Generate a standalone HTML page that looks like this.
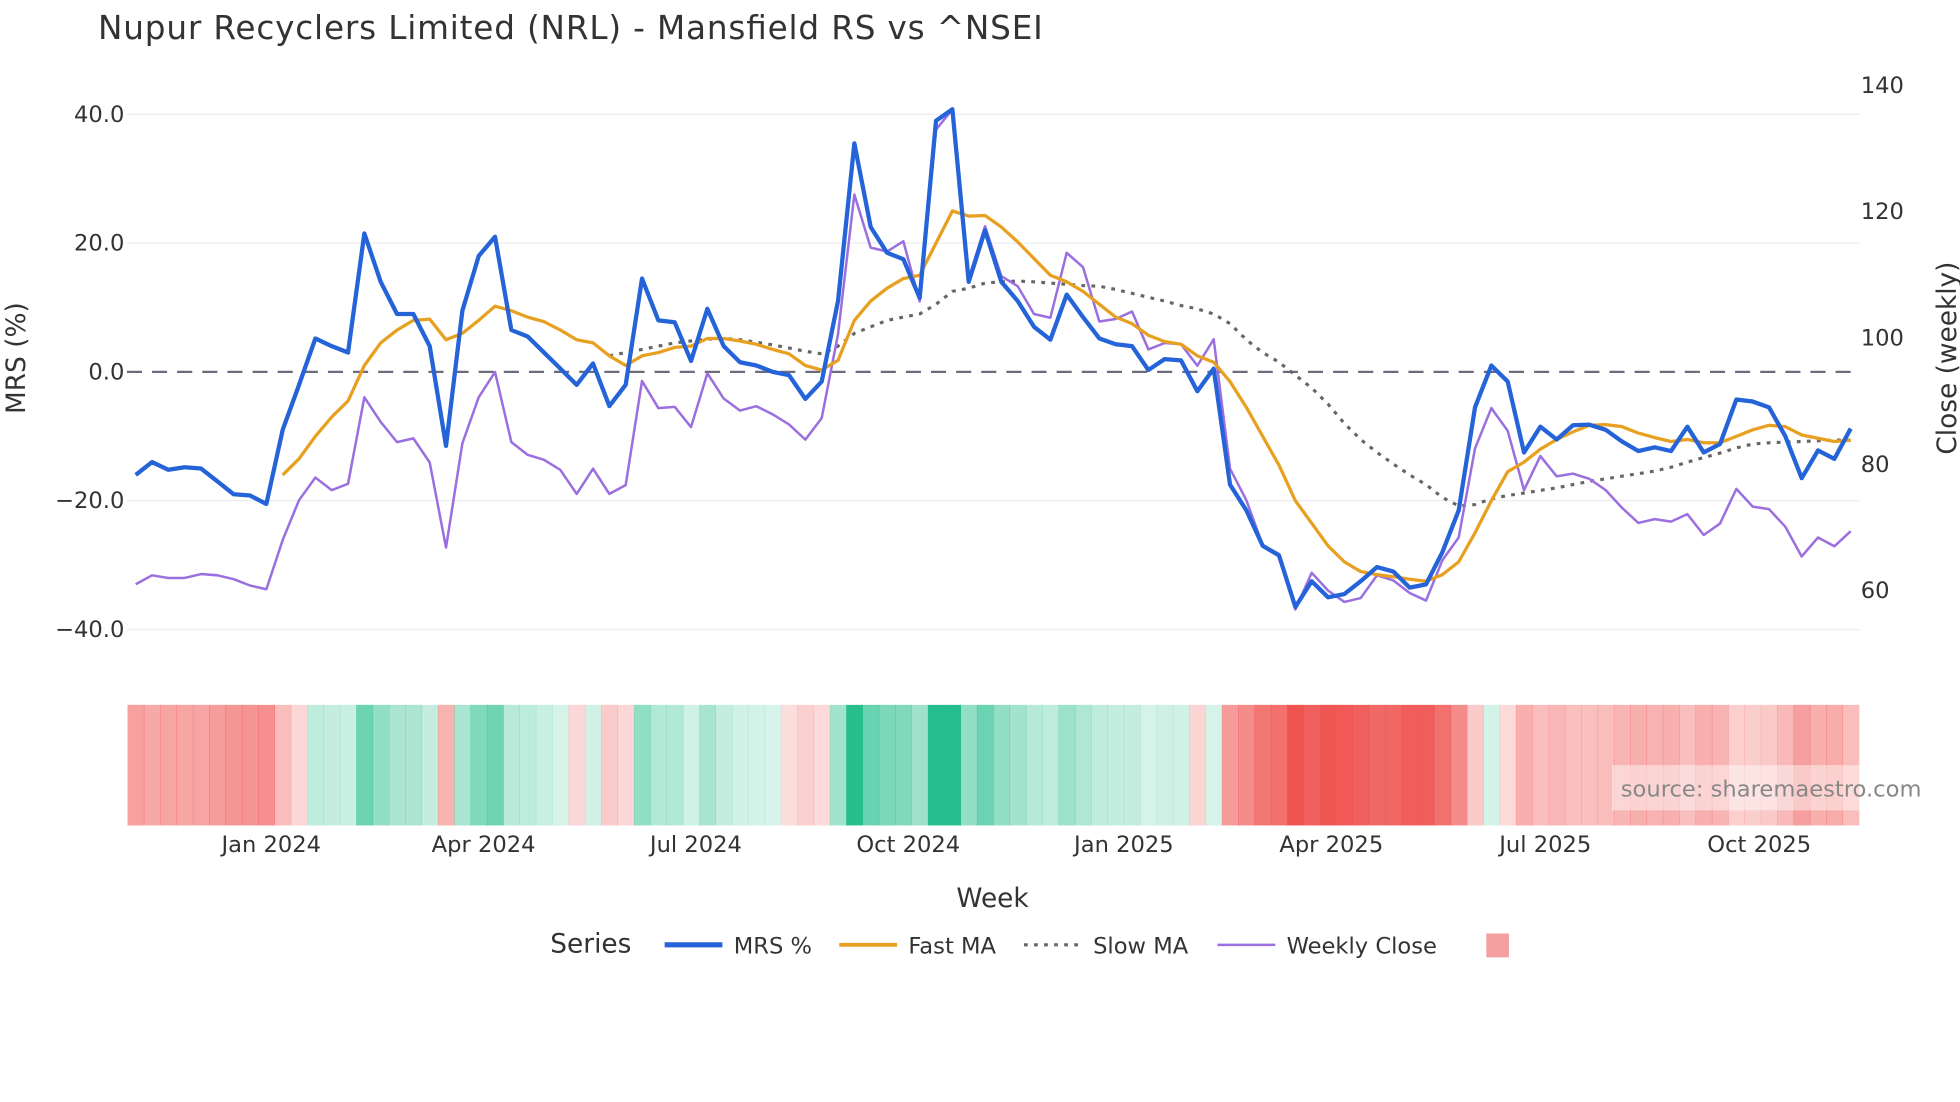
<!DOCTYPE html>
<html><head><meta charset="utf-8"><title>Nupur Recyclers Mansfield RS</title>
<style>html,body{margin:0;padding:0;background:#fff;}svg{display:block;font-family:"DejaVu Sans","Liberation Sans",sans-serif;}</style>
</head><body>
<svg id="chart" width="1960" height="1102" viewBox="0 0 1560 877.1" xmlns="http://www.w3.org/2000/svg">
<g id="grid"></g>
<g id="strip"></g>
<g id="series"></g>
<g id="axes"></g>
<text x="78" y="31" font-size="26" textLength="752" fill="#333">Nupur Recyclers Limited (NRL) - Mansfield RS vs ^NSEI</text>
<text transform="translate(20,285) rotate(-90)" text-anchor="middle" font-size="21" fill="#333">MRS (%)</text>
<text transform="translate(1557,285) rotate(-90)" text-anchor="middle" font-size="21" fill="#333">Close (weekly)</text>
<text x="790" y="722" text-anchor="middle" font-size="21" fill="#333">Week</text>
<g>
<rect x="1283" y="609" width="197" height="36" fill="#fff" fill-opacity="0.45"/>
<text x="1290" y="634" font-size="18" fill="#888">source: sharemaestro.com</text>
</g>
<g>
<text x="438" y="758" font-size="21" fill="#333">Series</text>
<g><line x1="529" y1="752" x2="575" y2="752" stroke="#2563d9" stroke-width="4"/><text x="584" y="759" font-size="18" fill="#333">MRS %</text></g>
<g><line x1="668" y1="752" x2="714" y2="752" stroke="#e8a020" stroke-width="3"/><text x="723" y="759" font-size="18" fill="#333">Fast MA</text></g>
<g><line x1="815" y1="752" x2="860" y2="752" stroke="#666" stroke-width="2.5" stroke-dasharray="3,5"/><text x="870" y="759" font-size="18" fill="#333">Slow MA</text></g>
<g><line x1="969" y1="752" x2="1015" y2="752" stroke="#9b6fe0" stroke-width="2"/><text x="1024" y="759" font-size="18" fill="#333">Weekly Close</text></g>
<rect x="1183" y="743" width="18" height="19" fill="#f4a0a0"/>
</g>
</svg>
<script>
const mrs = [-16,-14,-15.2,-14.8,-15,-17,-19,-19.2,-20.5,-9,-2,5.2,4,3,21.5,14,9,9,4,-11.5,9.5,18,21,6.5,5.5,3,0.5,-2,1.3,-5.3,-2,14.5,8,7.7,1.7,9.8,4,1.5,1,0,-0.5,-4.2,-1.5,11,35.5,22.5,18.5,17.5,11.5,39,40.8,14,22,14,11,7,5,12,8.5,5.2,4.3,4,0.3,2,1.8,-3,0.5,-17.5,-21.5,-27,-28.5,-36.5,-32.5,-35,-34.5,-32.5,-30.3,-31,-33.5,-33,-28,-21.5,-5.5,1,-1.5,-12.5,-8.5,-10.5,-8.3,-8.2,-9,-10.8,-12.3,-11.7,-12.3,-8.5,-12.5,-11.2,-4.3,-4.6,-5.5,-10,-16.5,-12.2,-13.5,-8.8];
const closeW = [60.8,62.2,61.8,61.8,62.4,62.2,61.6,60.6,60,67.8,74.1,77.7,75.7,76.7,90.4,86.5,83.3,83.9,80.1,66.6,83.1,90.4,94.4,83.3,81.3,80.5,78.9,75.1,79.1,75.1,76.5,93,88.7,88.9,85.7,94.2,90.2,88.3,89,87.7,86.1,83.7,87.1,100.4,122.5,114.1,113.5,115.1,105.6,132.8,136,109.2,117.5,109.6,108,103.6,103,113.3,111,102.4,102.8,104,98,99,98.8,95.4,99.6,79.1,74.1,67,65.6,56.8,62.6,59.8,58,58.6,62.2,61.4,59.4,58.2,64.6,68.2,82.3,88.7,85.1,75.7,81.1,77.9,78.3,77.5,75.7,72.9,70.5,71.1,70.7,71.9,68.6,70.4,75.9,73.1,72.7,69.9,65.2,68.2,66.8,69.2];
const fastMA = [null,null,null,null,null,null,null,null,null,-16,-13.5,-10,-7,-4.5,1,4.5,6.5,8,8.2,5,6,8,10.2,9.5,8.5,7.8,6.5,5,4.5,2.5,1,2.5,3,3.8,4,5.2,5.2,4.8,4.3,3.5,2.8,1,0.3,1.8,8,11,13,14.5,15,20,25,24.2,24.3,22.5,20.2,17.6,15,14,12.5,10.5,8.5,7.5,5.7,4.7,4.3,2.5,1.5,-1.5,-5.5,-10,-14.5,-20,-23.5,-27,-29.5,-31,-31.5,-31.8,-32.2,-32.5,-31.5,-29.5,-25,-20,-15.5,-14,-12,-10.5,-9.3,-8.3,-8.2,-8.5,-9.5,-10.2,-10.8,-10.5,-11,-11,-10,-9,-8.3,-8.5,-9.8,-10.3,-10.8,-10.6];
const slowMA = [null,null,null,null,null,null,null,null,null,null,null,null,null,null,null,null,null,null,null,null,null,null,null,null,null,null,null,null,null,2.5,3,3.5,4,4.5,4.8,5.1,5.2,5,4.6,4.2,3.7,3.2,2.8,4,6,7,8,8.5,9,10.5,12.5,13,13.8,14,14.1,14,13.8,13.6,13.4,13.3,12.8,12.2,11.6,11,10.3,9.8,9,7.5,5,3,1.5,-0.5,-2.5,-5,-8,-10.5,-12.5,-14.3,-16,-17.5,-19.5,-20.8,-20.6,-19.7,-19.2,-18.8,-18.4,-18,-17.5,-17,-16.6,-16.2,-15.8,-15.4,-14.8,-14,-13.3,-12.6,-11.8,-11.2,-11,-10.9,-10.8,-10.7,-10.6,-10.6];
const yTicks = [40,20,0,-20,-40];
const yTickLabels = ["40.0","20.0","0.0","\u221220.0","\u221240.0"];
const y2Ticks = [140,120,100,80,60];
const xTickWeeks = [8.3,21.3,34.3,47.3,60.5,73.2,86.3,99.4];
const xTickLabels = ["Jan 2024","Apr 2024","Jul 2024","Oct 2024","Jan 2025","Apr 2025","Jul 2025","Oct 2025"];

const NS="http://www.w3.org/2000/svg";
const X0=101,X1=1480;
const xs=i=>108+i*13;
const ys=v=>296-v*5.125;
const y2s=v=>268-(v-100)*5.025;
function mk(tag,parent){const e=document.createElementNS(NS,tag);parent.appendChild(e);return e;}
const grid=document.getElementById('grid'),axes=document.getElementById('axes'),series=document.getElementById('series'),strip=document.getElementById('strip');

yTicks.forEach((v,k)=>{
  if(v!==0){const l=mk('line',grid);
  
  
  l.setAttribute('x1',X0);l.setAttribute('x2',X1);l.setAttribute('y1',ys(v));l.setAttribute('y2',ys(v));l.setAttribute('stroke','#ebedf2');l.setAttribute('stroke-width','1');}
  const t=mk('text',axes);
  
  
  t.setAttribute('x',99);t.setAttribute('y',ys(v)+6);t.setAttribute('text-anchor','end');t.setAttribute('font-size','18');t.setAttribute('fill','#333');t.textContent=yTickLabels[k];
});
y2Ticks.forEach(v=>{
  const t=mk('text',axes);
  
  
  t.setAttribute('x',1481);t.setAttribute('y',y2s(v)+7);t.setAttribute('font-size','18');t.setAttribute('fill','#333');t.textContent=v;
});
const zl=mk('line',grid);


zl.setAttribute('x1',X0);zl.setAttribute('x2',X1);zl.setAttribute('y1',ys(0));zl.setAttribute('y2',ys(0));zl.setAttribute('stroke','#6b6b7b');zl.setAttribute('stroke-width','1.8');zl.setAttribute('stroke-dasharray','12,8');

xTickWeeks.forEach((w,k)=>{
  const t=mk('text',axes);
  
  
  t.setAttribute('x',xs(w));t.setAttribute('y',678);t.setAttribute('text-anchor','middle');t.setAttribute('font-size','18');t.setAttribute('fill','#333');t.textContent=xTickLabels[k];
});

mrs.forEach((v,i)=>{
  const a=Math.min(Math.abs(v)/36,1);
  const alpha=0.18+0.82*a;
  const c=v<0?'rgb(239,83,80)':'rgb(38,190,140)';
  const left=Math.max(X0,xs(i)-6.5),right=Math.min(X1,xs(i)+6.5);
  const r=mk('rect',strip);
  
  
  r.setAttribute('x',left);r.setAttribute('y',561);r.setAttribute('width',right-left+0.4);r.setAttribute('height',96);r.setAttribute('fill',c);r.setAttribute('fill-opacity',alpha.toFixed(3));
});

function path(arr,sc){let d='';arr.forEach((v,i)=>{if(v===null)return;d+=(d?'L':'M')+xs(i).toFixed(1)+','+sc(v).toFixed(1);});return d;}
function line(arr,sc,name,color,w,dash){
  const p=mk('path',series);
  
  
  p.setAttribute('d',path(arr,sc));p.setAttribute('fill','none');p.setAttribute('stroke',color);p.setAttribute('stroke-width',w);p.setAttribute('stroke-linejoin','round');
  if(dash)p.setAttribute('stroke-dasharray',dash);
}
line(slowMA,ys,'slow-ma-line','#666',2.5,'3,5');
line(closeW,y2s,'weekly-close-line','#9b6fe0',2);
line(fastMA,ys,'fast-ma-line','#e8a020',2.6);
line(mrs,ys,'mrs-line','#2563d9',3.4);
</script>
</body></html>
